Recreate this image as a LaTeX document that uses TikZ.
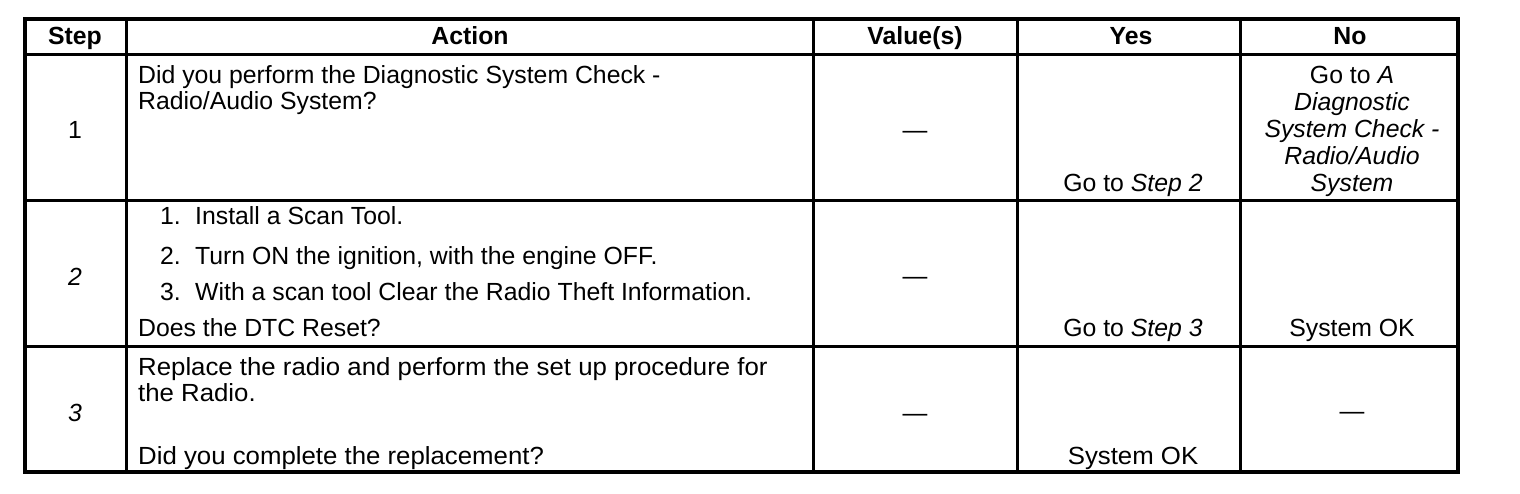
\documentclass[tikz,border=0pt]{standalone}
\usepackage{fontspec}
\setmainfont{Liberation Sans}
\begin{document}
\begin{tikzpicture}[x=1pt,y=-1pt,
  txt/.style={inner sep=0pt,font=\fontsize{24.8}{27}\selectfont},
  hdr/.style={txt,font=\fontsize{24.8}{27}\selectfont\bfseries,anchor=base},
  cell/.style={txt,anchor=base},
  lft/.style={txt,anchor=base west},
  inner/.style={line width=3pt},
  outer/.style={line width=4pt}]
\useasboundingbox (0,0) rectangle (1520,494);
% grid
\draw[inner] (25,55) -- (1458,55);
\draw[inner] (25,201) -- (1458,201);
\draw[inner] (25,346) -- (1458,346);
\draw[inner] (126,19) -- (126,472);
\draw[inner] (813,19) -- (813,472);
\draw[inner] (1017,19) -- (1017,472);
\draw[inner] (1240,19) -- (1240,472);
\draw[outer] (25,19) rectangle (1458,472);
% header
\node[hdr] (hStep) at (75,45) {Step};
\node[hdr] (hAct) at (470,45) {Action};
\node[hdr] (hVal) at (915,45) {Value(s)};
\node[hdr] (hYes) at (1131,45) {Yes};
\node[hdr] (hNo) at (1350,45) {No};
% row 1
\node[cell] (s1) at (75,139) {1};
\node[lft] (a1a) at (138,84) {Did you perform the Diagnostic System Check -};
\node[lft] (a1b) at (138,110) {Radio/Audio System?};
\node[cell] (v1) at (915,139) {—};
\node[cell] (y1) at (1133,192) {Go to \textit{Step 2}};
\node[cell] (n1a) at (1352,84) {Go to \textit{A}};
\node[cell] (n1b) at (1352,111) {\textit{Diagnostic}};
\node[cell] (n1c) at (1352,138) {\textit{System Check -}};
\node[cell] (n1d) at (1352,165) {\textit{Radio/Audio}};
\node[cell] (n1e) at (1352,192) {\textit{System}};
% row 2
\node[cell] (s2) at (75,286) {\textit{2}};
\node[lft] (a2n1) at (160,225) {1.};
\node[lft] (a2t1) at (195,225) {Install a Scan Tool.};
\node[lft] (a2n2) at (160,265) {2.};
\node[lft] (a2t2) at (195,265) {Turn ON the ignition, with the engine OFF.};
\node[lft] (a2n3) at (160,301) {3.};
\node[lft] (a2t3) at (195,301) {With a scan tool Clear the Radio Theft Information.};
\node[lft] (a2d) at (138,336) {Does the DTC Reset?};
\node[cell] (v2) at (915,284) {—};
\node[cell] (y2) at (1133,336) {Go to \textit{Step 3}};
\node[cell] (n2) at (1352,336) {System OK};
% row 3
\node[cell] (s3) at (75,421) {\textit{3}};
\node[lft] (a3a) at (138,375) {\scalebox{1.04}[1]{Replace the radio and perform the set up procedure for}};
\node[lft] (a3b) at (138,401) {\scalebox{1.04}[1]{the Radio.}};
\node[lft] (a3c) at (138,464) {\scalebox{1.04}[1]{Did you complete the replacement?}};
\node[cell] (v3) at (915,421) {—};
\node[cell] (y3) at (1133,464) {\scalebox{1.04}[1]{System OK}};
\node[cell] (n3) at (1352,419) {—};
\end{tikzpicture}
\end{document}
